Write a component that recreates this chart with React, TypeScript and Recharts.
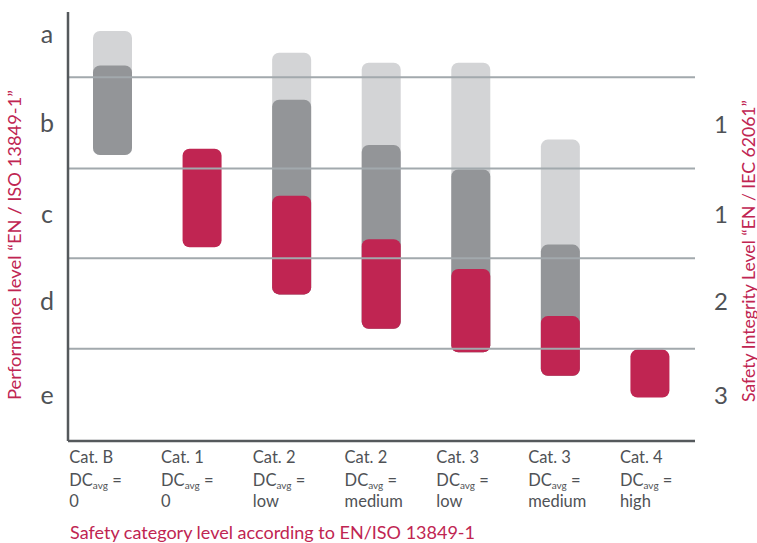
import React from "react";
import { BarChart, Bar, XAxis, YAxis, ReferenceLine } from "recharts";

const categories = ["Cat. B", "Cat. 1", "Cat. 2", "Cat. 2", "Cat. 3", "Cat. 3", "Cat. 4"];
const dcLabels = ["0", "0", "low", "medium", "low", "medium", "high"];

// Performance-level scale: a (top) ... e (bottom); boundaries between levels
const lightTop = [0.49, null, 0.73, 0.84, 0.84, 1.69, null];
const darkTop = [0.87, null, 1.25, 1.75, 2.02, 2.85, null];
const redTop = [null, 1.79, 2.31, 2.79, 3.12, 3.64, 4.01];
const bottoms = [1.86, 2.88, 3.4, 3.78, 4.04, 4.3, 4.54];

const levelTicks = [0.53, 1.52, 2.52, 3.48, 4.52];
const levelLabels = ["a", "b", "c", "d", "e"];
const silTicks = [1.52, 2.52, 3.48, 4.52];
const silLabels = ["1", "1", "2", "3"];
const boundaries = [1, 2.01, 3, 4];
const yDomain = [0.28, 5.02];

const LIGHT = "#d3d4d6";
const DARK = "#939598";
const RED = "#c02552";
const GRID = "#a2a9ad";
const AXIS = "#55595c";
const TEXT = "#4f5256";
const FONT = "Lato, 'Open Sans', sans-serif";

const data = categories.map((c, i) => ({
  id: i,
  cat: c,
  light: lightTop[i] == null ? null : [lightTop[i], bottoms[i]],
  dark: darkTop[i] == null ? null : [darkTop[i], bottoms[i]],
  red: redTop[i] == null ? null : [redTop[i], bottoms[i]],
}));

const makeShape = (key: string, fill: string) => (props: any) => {
  const { x, y, width, height, payload } = props;
  if (!payload || payload[key] == null) return <g />;
  const top = Math.min(y, y + height);
  const h = Math.abs(height);
  return <rect x={x} y={top} width={width} height={h} rx={7} ry={7} fill={fill} />;
};

const LeftTick = (props: any) => {
  const { y, payload } = props;
  const idx = levelTicks.indexOf(payload.value);
  return (
    <text x={47} y={y + 8} textAnchor="middle" fill={TEXT} fontSize={25} fontFamily={FONT}>
      {levelLabels[idx]}
    </text>
  );
};

const RightTick = (props: any) => {
  const { y, payload } = props;
  const idx = silTicks.indexOf(payload.value);
  return (
    <text x={714} y={y + 8.5} textAnchor="start" fill={TEXT} fontSize={24} fontFamily={FONT}>
      {silLabels[idx]}
    </text>
  );
};

const BottomTick = (props: any) => {
  const { x, payload } = props;
  const i = payload.value as number;
  const left = x - 43.5 + i * 2.2;
  return (
    <g fontFamily={FONT} fill={TEXT} fontSize={16.5}>
      <text x={left} y={463}>{categories[i]}</text>
      <text x={left} y={486}>
        <tspan>DC</tspan>
        <tspan fontSize={10} dy={3}>avg</tspan>
        <tspan dy={-3}> =</tspan>
      </text>
      <text x={left} y={506.5}>{dcLabels[i]}</text>
    </g>
  );
};

export default function App() {
  return (
    <div style={{ position: "absolute", left: 0, top: 0, width: 757, height: 543, background: "#fff" }}>
      <BarChart
        width={757}
        height={543}
        data={data}
        margin={{ top: 12, right: 0, bottom: 0, left: 0 }}
        barSize={39}
        barGap={-39}
        barCategoryGap={0}
      >
        <XAxis
          dataKey="id"
          xAxisId="x"
          height={102}
          tickLine={false}
          axisLine={{ stroke: AXIS, strokeWidth: 2.5 }}
          tick={<BottomTick />}
          interval={0}
        />
        <YAxis
          yAxisId="left"
          orientation="left"
          width={68}
          type="number"
          domain={yDomain}
          reversed
          ticks={levelTicks}
          tickLine={false}
          axisLine={{ stroke: AXIS, strokeWidth: 2.5 }}
          tick={<LeftTick />}
          allowDataOverflow
        />
        <YAxis
          yAxisId="right"
          orientation="right"
          width={62}
          type="number"
          domain={yDomain}
          reversed
          ticks={silTicks}
          tickLine={false}
          axisLine={false}
          tick={<RightTick />}
          allowDataOverflow
        />
        <Bar dataKey="light" xAxisId="x" yAxisId="left" isAnimationActive={false} shape={makeShape("light", LIGHT)} />
        <Bar dataKey="dark" xAxisId="x" yAxisId="left" isAnimationActive={false} shape={makeShape("dark", DARK)} />
        <Bar dataKey="red" xAxisId="x" yAxisId="left" isAnimationActive={false} shape={makeShape("red", RED)} />
        {boundaries.map((b) => (
          <ReferenceLine key={b} y={b} xAxisId="x" yAxisId="left" stroke={GRID} strokeWidth={2} ifOverflow="extendDomain" />
        ))}
      </BarChart>
      <svg width={757} height={543} style={{ position: "absolute", left: 0, top: 0, pointerEvents: "none" }}>
        <g fontFamily={FONT} fill={RED} fontSize={17}>
          <text
            x={14}
            y={245}
            textAnchor="middle"
            dominantBaseline="central"
            transform="rotate(-90 14 245)"
            textLength={310}
            lengthAdjust="spacingAndGlyphs"
          >
            Performance level “EN / ISO 13849-1”
          </text>
          <text
            x={748}
            y={251}
            textAnchor="middle"
            dominantBaseline="central"
            transform="rotate(-90 748 251)"
            textLength={302}
            lengthAdjust="spacingAndGlyphs"
          >
            Safety Integrity Level “EN / IEC 62061”
          </text>
          <text x={70} y={539} textLength={405} lengthAdjust="spacingAndGlyphs">
            Safety category level according to EN/ISO 13849-1
          </text>
        </g>
      </svg>
    </div>
  );
}
